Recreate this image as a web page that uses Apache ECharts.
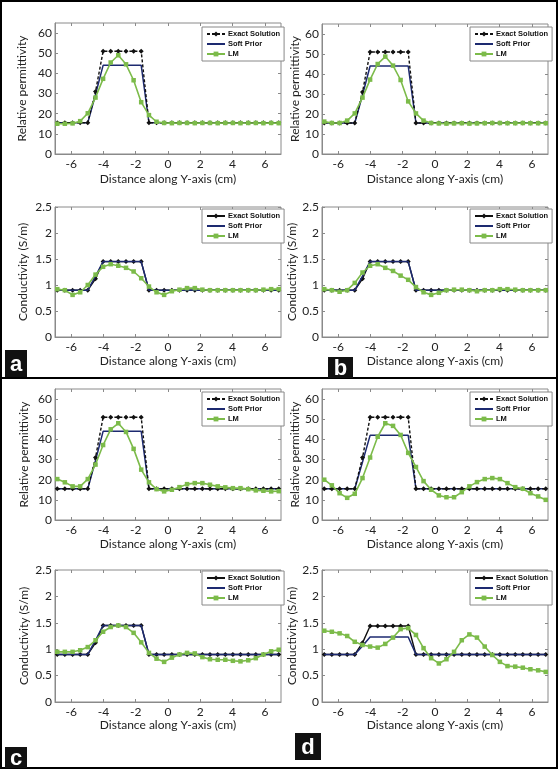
<!DOCTYPE html>
<html>
<head>
<meta charset="utf-8">
<script src="https://cdn.jsdelivr.net/npm/echarts@6/dist/echarts.min.js"></script>
<style>
html,body{margin:0;padding:0;background:#fff;}
#chart{width:558px;height:769px;}
</style>
</head>
<body>
<div id="chart"></div>
<script>
// ---- data ----
var xPositions = [-6.86, -6.39, -5.91, -5.44, -4.97, -4.49, -4.02, -3.55, -3.08, -2.60, -2.13, -1.66, -1.18, -0.71, -0.24, 0.24, 0.71, 1.18, 1.66, 2.13, 2.60, 3.08, 3.55, 4.02, 4.49, 4.97, 5.44, 5.91, 6.39, 6.86];
var xTicks = [-6, -4, -2, 0, 2, 4, 6];
var permTicks = [0, 10, 20, 30, 40, 50, 60];
var condTicks = [0, 0.5, 1, 1.5, 2, 2.5];

var permExact = [15.5,15.5,15.5,15.5,15.5, 31, 51,51,51,51,51,51, 15.5,15.5,15.5,15.5,15.5,15.5,15.5,15.5,15.5,15.5,15.5,15.5,15.5,15.5,15.5,15.5,15.5,15.5];
var permSoftABC = [15.5,15.5,15.5,15.5,15.5, 29.5, 44,44,44,44,44,44, 15.5,15.5,15.5,15.5,15.5,15.5,15.5,15.5,15.5,15.5,15.5,15.5,15.5,15.5,15.5,15.5,15.5,15.5];
var permSoftD = [15.5,15.5,15.5,15.5,15.5, 28.8, 42,42,42,42,42,42, 15.5,15.5,15.5,15.5,15.5,15.5,15.5,15.5,15.5,15.5,15.5,15.5,15.5,15.5,15.5,15.5,15.5,15.5];
var permLM_a = [15, 15, 15.2, 16.3, 20.2, 28, 37.3, 45.4, 49, 44.5, 36.6, 25.7, 19.3, 16, 15.4, 15.3, 15.4, 15.4, 15.3, 15.4, 15.4, 15.3, 15.4, 15.4, 15.3, 15.4, 15.4, 15.3, 15.4, 15.3];
var permLM_b = [16.2, 15.5, 15.5, 16.7, 20.3, 28.2, 37.2, 45, 48.7, 44.2, 37, 26.3, 20.3, 16.7, 15.5, 15.3, 15.2, 15.3, 15.4, 15.2, 15.3, 15.4, 15.5, 15.5, 15.4, 15.4, 15.5, 15.4, 15.4, 15.4];
var permLM_c = [20.3, 18.7, 16.7, 16.7, 20.3, 27.5, 37.2, 45, 48, 43.7, 35.3, 25, 18.7, 15.3, 14.2, 15, 16.3, 17.8, 18.3, 18.3, 17.5, 16.7, 16.2, 15.8, 15.8, 15.3, 14.7, 14.5, 14.2, 14.3];
var permLM_d = [20, 17.2, 13.3, 11, 13, 20.8, 31, 41.3, 48, 46.7, 42.2, 33.3, 26.3, 19.3, 15, 12.2, 11.3, 11.3, 13.8, 16.7, 18.8, 20.3, 20.8, 20.3, 18.3, 16.3, 15.5, 13.3, 11.7, 10];

var condExact = [0.9,0.9,0.9,0.9,0.9, 1.12, 1.45,1.45,1.45,1.45,1.45,1.45, 0.9,0.9,0.9,0.9,0.9,0.9,0.9,0.9,0.9,0.9,0.9,0.9,0.9,0.9,0.9,0.9,0.9,0.9];
var condExactD = [0.9,0.9,0.9,0.9,0.9, 1.12, 1.44,1.44,1.44,1.44,1.44,1.44, 0.9,0.9,0.9,0.9,0.9,0.9,0.9,0.9,0.9,0.9,0.9,0.9,0.9,0.9,0.9,0.9,0.9,0.9];
var condSoftABC = [0.9,0.9,0.9,0.9,0.9, 1.17, 1.45,1.45,1.45,1.45,1.45,1.45, 0.9,0.9,0.9,0.9,0.9,0.9,0.9,0.9,0.9,0.9,0.9,0.9,0.9,0.9,0.9,0.9,0.9,0.9];
var condSoftD = [0.9,0.9,0.9,0.9,0.9, 1.06, 1.23,1.23,1.23,1.23,1.23,1.23, 0.9,0.9,0.9,0.9,0.9,0.9,0.9,0.9,0.9,0.9,0.9,0.9,0.9,0.9,0.9,0.9,0.9,0.9];
var condLM_a = [0.92, 0.9, 0.81, 0.86, 1.0, 1.2, 1.35, 1.4, 1.37, 1.33, 1.26, 1.13, 0.97, 0.86, 0.81, 0.88, 0.91, 0.94, 0.94, 0.91, 0.9, 0.9, 0.9, 0.9, 0.9, 0.9, 0.9, 0.91, 0.92, 0.92];
var condLM_b = [0.92, 0.9, 0.87, 0.9, 1.04, 1.24, 1.37, 1.4, 1.33, 1.27, 1.18, 1.1, 0.96, 0.86, 0.81, 0.85, 0.9, 0.91, 0.91, 0.9, 0.88, 0.9, 0.9, 0.92, 0.92, 0.91, 0.9, 0.9, 0.9, 0.9];
var condLM_c = [0.95, 0.95, 0.95, 0.98, 1.04, 1.17, 1.33, 1.42, 1.45, 1.42, 1.31, 1.13, 0.93, 0.82, 0.76, 0.84, 0.9, 0.93, 0.92, 0.85, 0.81, 0.8, 0.8, 0.78, 0.77, 0.79, 0.83, 0.9, 0.96, 0.99];
var condLM_d = [1.35, 1.33, 1.3, 1.25, 1.14, 1.08, 1.05, 1.03, 1.1, 1.22, 1.38, 1.4, 1.27, 1.02, 0.83, 0.73, 0.81, 0.95, 1.17, 1.28, 1.22, 1.05, 0.89, 0.76, 0.68, 0.67, 0.65, 0.62, 0.6, 0.57];

var seriesNames = ['Exact Solution', 'Soft Prior', 'LM'];
var panelLetters = ['a', 'b', 'c', 'd'];

// ---- layout ----
var FONT = 'Lato';
var panels = [
  {grid:{left:55, top:23, width:226, height:131}, type:'perm', exact:permExact, soft:permSoftABC, lm:permLM_a, leg:[202,27], ygap:27, xgap:19},
  {grid:{left:322, top:24, width:226, height:130}, type:'perm', exact:permExact, soft:permSoftABC, lm:permLM_b, leg:[470,27], ygap:20, xgap:19},
  {grid:{left:55, top:207, width:226, height:130}, type:'cond', exact:condExact, soft:condSoftABC, lm:condLM_a, leg:[202,209], ygap:26, xgap:18},
  {grid:{left:322, top:207, width:226, height:130}, type:'cond', exact:condExact, soft:condSoftABC, lm:condLM_b, leg:[470,209], ygap:20, xgap:18},
  {grid:{left:55, top:389, width:226, height:131}, type:'perm', exact:permExact, soft:permSoftABC, lm:permLM_c, leg:[202,392], ygap:25, xgap:18},
  {grid:{left:322, top:389, width:226, height:131}, type:'perm', exact:permExact, soft:permSoftD, lm:permLM_d, leg:[470,392], ygap:20, xgap:18},
  {grid:{left:55, top:570, width:226, height:132}, type:'cond', exact:condExact, soft:condSoftABC, lm:condLM_c, leg:[202,571], ygap:25, xgap:15},
  {grid:{left:322, top:570, width:226, height:132}, type:'cond', exact:condExactD, soft:condSoftD, lm:condLM_d, leg:[470,571], ygap:20, xgap:14}
];

var grids = [], xAxes = [], yAxes = [], series = [], legends = [];
var axisColor = '#8a8a8a';
panels.forEach(function(p, i){
  grids.push(Object.assign({show:true, borderColor:axisColor, borderWidth:1, backgroundColor:'#fff'}, p.grid));
  var isPerm = p.type === 'perm';
  xAxes.push({
    type:'value', gridIndex:i, min:-7, max:7,
    name:'Distance along Y-axis (cm)', nameLocation:'middle', nameGap:p.xgap,
    nameTextStyle:{fontFamily:FONT, fontSize:12, color:'#222'},
    axisLine:{show:true, onZero:false, lineStyle:{color:axisColor}},
    axisTick:{show:true, inside:true, length:3, lineStyle:{color:axisColor}, customValues:xTicks},
    axisLabel:{fontFamily:FONT, fontSize:12, color:'#222', margin:4, customValues:xTicks},
    splitLine:{show:false}
  });
  xAxes.push({
    type:'value', gridIndex:i, min:-7, max:7, position:'top',
    axisLine:{show:false, onZero:false}, axisLabel:{show:false},
    axisTick:{show:true, inside:true, length:3, lineStyle:{color:axisColor}, customValues:xTicks},
    splitLine:{show:false}
  });
  var yticks = isPerm ? permTicks : condTicks;
  yAxes.push({
    type:'value', gridIndex:i, min:0, max:isPerm?65:2.5,
    name:isPerm?'Relative permittivity':'Conductivity (S/m)', nameLocation:'middle', nameGap:p.ygap,
    nameTextStyle:{fontFamily:FONT, fontSize:12, color:'#222'},
    axisLine:{show:true, onZero:false, lineStyle:{color:axisColor}},
    axisTick:{show:true, inside:true, length:3, lineStyle:{color:axisColor}, customValues:yticks},
    axisLabel:{fontFamily:FONT, fontSize:12, color:'#222', margin:3, customValues:yticks},
    splitLine:{show:false}
  });
  yAxes.push({
    type:'value', gridIndex:i, min:0, max:isPerm?65:2.5, position:'right',
    axisLine:{show:false, onZero:false}, axisLabel:{show:false},
    axisTick:{show:true, inside:true, length:3, lineStyle:{color:axisColor}, customValues:yticks},
    splitLine:{show:false}
  });
  function pts(arr){ return xPositions.map(function(x, k){ return [x, arr[k]]; }); }
  series.push({
    name:'Soft Prior', type:'line', xAxisIndex:2*i, yAxisIndex:2*i, data:pts(p.soft),
    symbol:'none', lineStyle:{color:'#1d2a70', width:1.5}, itemStyle:{color:'#1d2a70'}, z:isPerm?2:3, animation:false
  });
  series.push({
    name:'Exact Solution', type:'line', xAxisIndex:2*i, yAxisIndex:2*i, data:pts(p.exact),
    symbol:'diamond', symbolSize:5,
    lineStyle:{color:'#111', width:1.4, type:isPerm?[3,2]:'solid'}, itemStyle:{color:'#111'}, z:isPerm?3:2, animation:false
  });
  series.push({
    name:'LM', type:'line', xAxisIndex:2*i, yAxisIndex:2*i, data:pts(p.lm),
    symbol:'rect', symbolSize:4.5,
    lineStyle:{color:'#7cbb4a', width:1.6}, itemStyle:{color:'#7cbb4a'}, z:4, animation:false
  });
  legends.push({
    data:[
      {name:'Exact Solution', lineStyle:{type:isPerm?[3,2]:'solid', color:'#111'}},
      {name:'Soft Prior', itemStyle:{opacity:0}, lineStyle:{color:'#1d2a70'}},
      {name:'LM'}
    ],
    left:p.leg[0], top:p.leg[1], orient:'vertical',
    backgroundColor:'#fff', borderColor:'#888', borderWidth:1, padding:[3,4,3,4],
    itemGap:2, itemWidth:18, itemHeight:6,
    textStyle:{fontFamily:'Liberation Sans', fontSize:7.5, fontWeight:'bold', color:'#111', padding:[0,0,0,-2]},
    selectedMode:false
  });
});

var graphics = [
  {type:'rect', shape:{x:1, y:1, width:556, height:767}, style:{fill:null, stroke:'#000', lineWidth:2}, silent:true},
  {type:'line', shape:{x1:0, y1:378, x2:558, y2:378}, style:{stroke:'#000', lineWidth:2}, silent:true}
];
var labelBoxes = [[5,350,22,27],[328,357,25,21],[5,747,22,21],[295,733,26,27]];
labelBoxes.forEach(function(b, i){
  graphics.push({type:'rect', shape:{x:b[0], y:b[1], width:b[2], height:b[3]}, style:{fill:'#111'}, silent:true});
  graphics.push({type:'text', x:b[0]+b[2]/2, y:b[1]+b[3]/2+1, style:{text:panelLetters[i], fill:'#fff', font:'bold 22px "Liberation Sans"', align:'center', verticalAlign:'middle'}, silent:true});
});

var chart = echarts.init(document.getElementById('chart'), null, {renderer:'canvas'});
chart.setOption({
  animation:false,
  backgroundColor:'#fff',
  grid:grids, xAxis:xAxes, yAxis:yAxes, series:series, legend:legends,
  graphic:graphics
});
</script>
</body>
</html>
